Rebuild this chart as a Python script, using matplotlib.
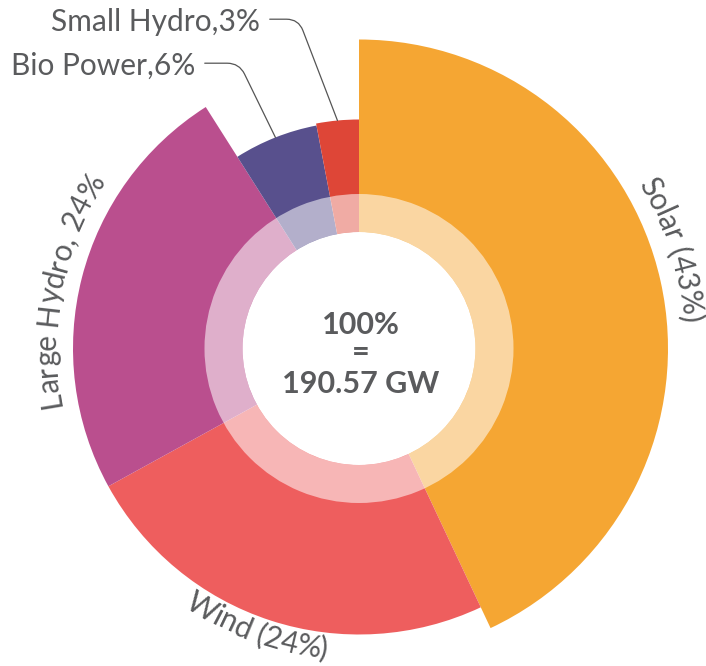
import numpy as np
import matplotlib
matplotlib.use("Agg")
import matplotlib.pyplot as plt
from matplotlib.patches import Wedge, Circle
from matplotlib.font_manager import FontProperties
from matplotlib.textpath import TextToPath

# data
sources = ["Solar", "Wind", "Large Hydro", "Bio Power", "Small Hydro"]
shares = [43, 24, 24, 6, 3]
radii = [309, 286, 286, 227, 229]
colors = ["#F5A633", "#EE5E5E", "#BA4F8E", "#58508D", "#DE4637"]
total_label = "100%\n=\n190.57 GW"

plt.rcParams['font.family'] = ['Lato', 'DejaVu Sans']
TXT = "#5A5B5D"
DPI = 100

fig = plt.figure(figsize=(7.06, 6.66), dpi=DPI)
ax = fig.add_axes([0, 0, 1, 1])
ax.set_xlim(0, 706)
ax.set_ylim(0, 666)
ax.set_aspect("equal")
ax.axis("off")

cx, cy = 359, 666 - 348.5

# wedges, clockwise from 12 o'clock
start = 90.0
mids = []
for s, r, c in zip(shares, radii, colors):
    end = start - s * 3.6
    ax.add_patch(Wedge((cx, cy), r, end, start, facecolor=c, edgecolor="none"))
    mids.append((start + end) / 2)
    start = end

# inner translucent ring and hole
ax.add_patch(Wedge((cx, cy), 154.5, 0, 360, width=38, facecolor="white",
                   alpha=0.55, edgecolor="none"))
ax.add_patch(Circle((cx, cy), 116.5, facecolor="white", edgecolor="none"))

# centre text
lines = total_label.split("\n")
CS = 22
ax.text(cx + 2, 666 - 334, lines[0], ha="center", va="baseline", fontsize=CS,
        fontweight="bold", color=TXT)
ax.text(cx + 2, 666 - 352, lines[1], ha="center", va="center", fontsize=CS,
        fontweight="bold", color=TXT)
ax.text(cx + 2, 666 - 393, lines[2], ha="center", va="baseline", fontsize=CS,
        fontweight="bold", color=TXT)

t2p = TextToPath()
LS = 21.5
label_font = FontProperties(family=['Lato', 'DejaVu Sans'], weight="normal", size=LS)


def w(t):
    # advance width in px; a bar is appended so trailing spaces count
    full = t2p.get_text_width_height_descent(t + "|", label_font, ismath=False)[0]
    bar = t2p.get_text_width_height_descent("|", label_font, ismath=False)[0]
    return (full - bar) * DPI / 72


def arc_text(s, r, mid, clockwise=True):
    total = w(s)
    span = np.degrees(total / r)
    for i, ch in enumerate(s):
        c = (w(s[:i]) + w(s[:i + 1])) / 2
        a = np.degrees(c / r)
        if clockwise:
            th = mid + span / 2 - a
            rot = th - 90
        else:
            th = mid - span / 2 + a
            rot = th + 90
        x = cx + r * np.cos(np.radians(th))
        y = cy + r * np.sin(np.radians(th))
        ax.text(x, y, ch, fontproperties=label_font, color=TXT, ha="center",
                va="baseline", rotation=rot, rotation_mode="anchor")


arc_text("Solar (43%)", 324, 17.5, clockwise=True)
arc_text("Wind (24%)", 312, -110, clockwise=False)
arc_text("Large Hydro, 24%", 303, 168.7, clockwise=True)

# leader-line labels
for name, idx, tx, ty, angB in [("Small Hydro,3%", 4, 260, 22, 111),
                                ("Bio Power,6%", 3, 195, 66, 116)]:
    th = np.radians(mids[idx])
    px = cx + radii[idx] * np.cos(th)
    py = cy + radii[idx] * np.sin(th)
    ax.annotate(name, xy=(px, py), xytext=(tx, 666 - ty), ha="right",
                va="center", fontproperties=label_font, color=TXT,
                arrowprops=dict(arrowstyle="-", color="#555555", lw=0.9,
                                relpos=(1, 0.6), shrinkA=5, shrinkB=0,
                                connectionstyle=f"angle,angleA=0,angleB={angB},rad=12"))

fig.savefig("out.png", dpi=DPI)
